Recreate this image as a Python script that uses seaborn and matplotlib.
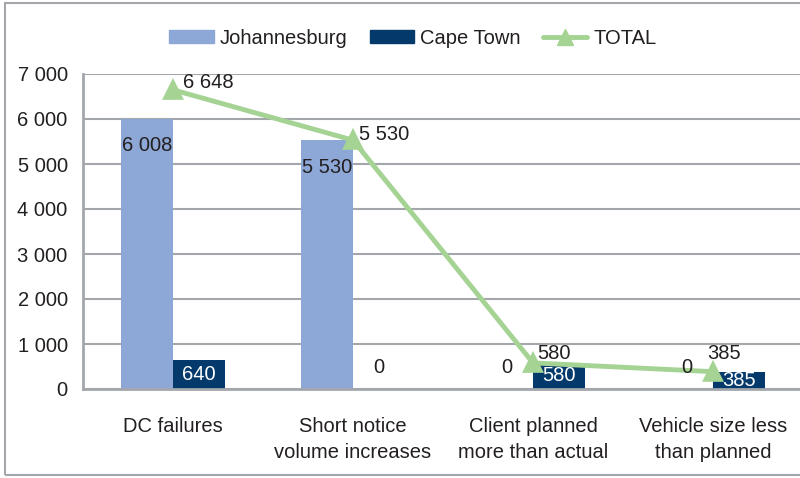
import matplotlib
matplotlib.use("Agg")
import matplotlib.pyplot as plt
import matplotlib.patches as mpatches
from matplotlib.lines import Line2D
from matplotlib.ticker import FuncFormatter, FixedLocator
import pandas as pd
import seaborn as sns

# ── Data ─────────────────────────────────────────────────────────────────────
causes = ["DC failures", "Short notice\nvolume increases",
          "Client planned\nmore than actual", "Vehicle size less\nthan planned"]
johannesburg = [6008, 5530, 0, 0]
cape_town = [640, 0, 580, 385]
total = [6648, 5530, 580, 385]
y_ticks = [0, 1000, 2000, 3000, 4000, 5000, 6000, 7000]

# ── Style ────────────────────────────────────────────────────────────────────
JHB_COL = "#8DA7D6"
CPT_COL = "#043A6B"
TOT_COL = "#A5D393"
GRID_COL = "#A3A7AB"
TEXT_COL = "#231F20"
FS = 14.5
# pixel offsets of the TOTAL labels from their points
TOT_LABEL_OFF = [(10, 7), (6, 6), (4, 9), (-6, 18)]

sns.set_style("white")
plt.rcParams["font.family"] = ["Liberation Sans", "DejaVu Sans"]


def spaced(v, _=None):
    return f"{int(v):,}".replace(",", " ")


df = pd.DataFrame({
    "cause": causes * 2,
    "city": ["Johannesburg"] * 4 + ["Cape Town"] * 4,
    "value": johannesburg + cape_town,
})

fig = plt.figure(figsize=(8, 4.78), dpi=100)
ax = fig.add_axes([83 / 800, 89 / 478, 720 / 800, 315 / 478])

sns.barplot(data=df, x="cause", y="value", hue="city", order=causes,
            hue_order=["Johannesburg", "Cape Town"],
            palette=[JHB_COL, CPT_COL], saturation=1, width=0.58,
            linewidth=0, errorbar=None, legend=False, ax=ax, zorder=3)

sns.pointplot(x=causes, y=total, order=causes, color=TOT_COL,
              marker="^", markersize=12, linewidth=3.5, ax=ax, zorder=4)

# ── Data labels ──────────────────────────────────────────────────────────────
off = 0.58 / 4
for i, (j, c, t) in enumerate(zip(johannesburg, cape_town, total)):
    if j > 0:
        ax.text(i - off, j - 600, spaced(j), ha="center", va="center",
                fontsize=FS, color=TEXT_COL, zorder=5)
    else:
        ax.text(i - off, 470, spaced(j), ha="center", va="center",
                fontsize=FS, color=TEXT_COL, zorder=5)
    if c > 0:
        ax.text(i + off, max(c / 2, 200), spaced(c), ha="center", va="center",
                fontsize=FS, color="white", zorder=5)
    else:
        ax.text(i + off, 470, spaced(c), ha="center", va="center",
                fontsize=FS, color=TEXT_COL, zorder=5)
    ax.annotate(spaced(t), (i, t), xytext=TOT_LABEL_OFF[i],
                textcoords="offset pixels", ha="left", va="center",
                fontsize=FS, color=TEXT_COL, zorder=6)

# ── Axes ─────────────────────────────────────────────────────────────────────
ax.set_xlim(-0.5, 3.5)
ax.set_ylim(0, 7000)
ax.set_yticks(y_ticks)
ax.yaxis.set_major_formatter(FuncFormatter(spaced))
ax.set_xticks(range(len(causes)))
ax.set_xticklabels(causes, linespacing=1.45)
ax.xaxis.set_minor_locator(FixedLocator([-0.5, 0.5, 1.5, 2.5, 3.5]))
ax.tick_params(axis="x", which="major", length=0, pad=20,
               labelsize=FS, labelcolor=TEXT_COL)
ax.tick_params(axis="x", which="minor", length=8, width=2, color=GRID_COL,
               direction="out")
ax.tick_params(axis="y", length=5, width=2, color=GRID_COL, direction="out",
               labelsize=FS, labelcolor=TEXT_COL, pad=6)
ax.set_xlabel("")
ax.set_ylabel("")
ax.yaxis.grid(True, color=GRID_COL, linewidth=1.5, zorder=0)
ax.set_axisbelow(True)
for s in ["top", "right"]:
    ax.spines[s].set_visible(False)
for s in ["left", "bottom"]:
    ax.spines[s].set_color(GRID_COL)
    ax.spines[s].set_linewidth(2)
ax.spines["left"].set_zorder(6)
ax.spines["bottom"].set_zorder(6)

# ── Legend ───────────────────────────────────────────────────────────────────
handles = [
    mpatches.Patch(color=JHB_COL, label="Johannesburg"),
    mpatches.Patch(color=CPT_COL, label="Cape Town"),
    Line2D([0], [0], color=TOT_COL, lw=3.5, marker="^", markersize=12,
           label="TOTAL"),
]
fig.legend(handles=handles, loc="center", bbox_to_anchor=(0.516, 0.92),
           ncol=3, frameon=False, fontsize=FS, handlelength=2.2,
           handleheight=0.65, columnspacing=1.1, handletextpad=0.3,
           labelcolor=TEXT_COL)

# outer frame
fig.patches.append(mpatches.Rectangle((5 / 800, 3 / 478), 1.0, 472 / 478,
                                      transform=fig.transFigure, fill=False,
                                      edgecolor=GRID_COL, linewidth=1.5))

fig.savefig("out.png", dpi=100, facecolor="white")
